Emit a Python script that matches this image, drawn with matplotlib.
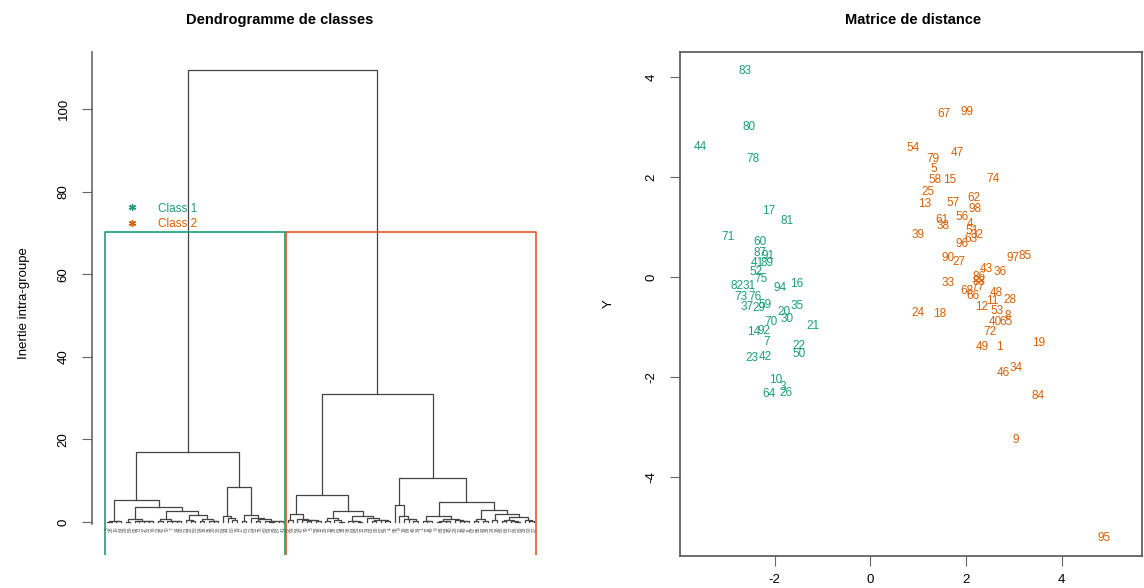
import numpy as np
import matplotlib.pyplot as plt
from matplotlib.lines import Line2D

plt.rcParams['font.family'] = ['Liberation Sans', 'DejaVu Sans']
plt.rcParams['axes.unicode_minus'] = False

# class 1 points (label, X, Y)
class1_labels = [83, 80, 44, 78, 17, 81, 71, 60, 87, 91, 41, 89, 52, 75, 82, 31, 94, 16, 73, 76,
                 37, 29, 59, 35, 20, 30, 70, 21, 14, 92, 7, 22, 50, 23, 42, 10, 3, 64, 26]
class1_x = [-2.63, -2.53, -3.56, -2.45, -2.13, -1.74, -2.97, -2.30, -2.30, -2.13, -2.37, -2.16, -2.39,
            -2.28, -2.78, -2.53, -1.88, -1.53, -2.70, -2.41, -2.57, -2.32, -2.20, -1.53, -1.80, -1.74,
            -2.07, -1.19, -2.43, -2.22, -2.16, -1.49, -1.49, -2.47, -2.20, -1.98, -1.84, -2.11, -1.76]
class1_y = [4.12, 3.00, 2.60, 2.36, 1.32, 1.12, 0.80, 0.70, 0.48, 0.42, 0.28, 0.28, 0.10, -0.04,
            -0.18, -0.18, -0.22, -0.14, -0.40, -0.40, -0.60, -0.62, -0.56, -0.58, -0.70, -0.84,
            -0.90, -0.98, -1.10, -1.08, -1.30, -1.38, -1.54, -1.62, -1.60, -2.06, -2.20, -2.34, -2.32]

# class 2 points
class2_labels = [67, 99, 54, 79, 47, 5, 58, 15, 74, 25, 13, 57, 62, 98, 56, 61, 38, 4, 51, 39,
                 32, 63, 96, 90, 27, 97, 85, 43, 36, 86, 88, 33, 77, 68, 66, 48, 11, 28, 24, 18,
                 12, 53, 8, 40, 65, 72, 49, 1, 19, 46, 34, 84, 9, 95]
class2_x = [1.54, 2.02, 0.90, 1.31, 1.83, 1.33, 1.35, 1.67, 2.56, 1.21, 1.13, 1.73, 2.17, 2.19,
            1.92, 1.50, 1.52, 2.08, 2.13, 1.00, 2.23, 2.10, 1.92, 1.63, 1.85, 2.98, 3.23, 2.42,
            2.71, 2.27, 2.27, 1.63, 2.25, 2.02, 2.15, 2.63, 2.56, 2.92, 1.00, 1.46, 2.33, 2.65,
            2.88, 2.61, 2.83, 2.50, 2.35, 2.71, 3.52, 2.79, 3.06, 3.50, 3.04, 4.90]
class2_y = [3.26, 3.30, 2.58, 2.36, 2.48, 2.16, 1.94, 1.94, 1.96, 1.70, 1.46, 1.48, 1.58, 1.36,
            1.20, 1.14, 1.02, 1.06, 0.92, 0.84, 0.84, 0.76, 0.66, 0.38, 0.30, 0.38, 0.42, 0.16,
            0.10, 0.00, -0.10, -0.12, -0.20, -0.28, -0.38, -0.32, -0.48, -0.46, -0.72, -0.74,
            -0.60, -0.68, -0.78, -0.90, -0.90, -1.10, -1.40, -1.40, -1.32, -1.92, -1.82, -2.38,
            -3.26, -5.22]

# height of the last merge
top_height = 109.6

green = '#1B9E77'
orange = '#D95F02'

labels = class1_labels + class2_labels
pts = np.column_stack([class1_x + class2_x, class1_y + class2_y])
n = len(pts)

# hierarchical clustering, ward.D on euclidean distances (like R hclust)
d = np.sqrt(((pts[:, None] - pts[None]) ** 2).sum(-1))
big = np.full((2 * n - 1, 2 * n - 1), np.inf)
big[:n, :n] = d
np.fill_diagonal(big, np.inf)
size = np.zeros(2 * n - 1)
size[:n] = 1
alive = list(range(n))
merges = []
for k in range(n - 1):
    sub = big[np.ix_(alive, alive)]
    a, b = np.unravel_index(np.argmin(sub), sub.shape)
    i, j = alive[a], alive[b]
    h = big[i, j]
    new = n + k
    for m in alive:
        if m in (i, j):
            continue
        v = ((size[i] + size[m]) * big[m, i] + (size[j] + size[m]) * big[m, j] - size[m] * h) \
            / (size[i] + size[j] + size[m])
        big[m, new] = big[new, m] = v
    size[new] = size[i] + size[j]
    alive.remove(i)
    alive.remove(j)
    alive.append(new)
    merges.append([i, j, h])

# bring the tree to the height scale of the reference
scale = top_height / merges[-1][2]
for mg in merges:
    mg[2] *= scale


def leaves(node):
    if node < n:
        return [node]
    i, j, _ = merges[node - n]
    return leaves(i) + leaves(j)


root = 2 * n - 2
# put class 1 on the left
if 0 not in leaves(merges[-1][0]):
    merges[-1][0], merges[-1][1] = merges[-1][1], merges[-1][0]
order = leaves(root)
xpos = {leaf: k + 1 for k, leaf in enumerate(order)}

fig = plt.figure(figsize=(11.44, 5.88), dpi=100)
W, H = 1144, 588
ax1 = fig.add_axes([92 / W, 1 - 555 / H, (560 - 92) / W, (555 - 52) / H])
ax2 = fig.add_axes([680 / W, 1 - 556 / H, (1142 - 680) / W, (556 - 52) / H])


def draw(node):
    if node < n:
        return xpos[node], 0.0
    i, j, h = merges[node - n]
    xi, hi = draw(i)
    xj, hj = draw(j)
    ax1.plot([xi, xi, xj, xj], [hi, h, h, hj], color='#444444', lw=0.9)
    return (xi + xj) / 2, h


draw(root)
cut = (merges[-1][2] + merges[-2][2]) / 2
for leaf in order:
    ax1.text(xpos[leaf], -1.2, str(labels[leaf]), rotation=90, ha='center', va='top',
             fontsize=3.5, color='#555555')

ymin, ymax = -8, 113.9
left_group = leaves(merges[-1][0])
x0 = 1 - 0.34
x1 = len(left_group) + 0.33
x2 = len(left_group) + 0.66
x3 = n + 0.33
ax1.plot([x0, x0, x1, x1], [ymin, cut, cut, ymin], color=green, lw=1.2)
ax1.plot([x2, x2, x3, x3], [ymin, cut, cut, ymin], color='#E8542A', lw=1.2)

ax1.set_xlim(1 - 15 / ((534 - 107) / (n - 1)), n + 26 / ((534 - 107) / (n - 1)))
ax1.set_ylim(ymin, ymax)
ax1.set_xticks([])
ax1.set_yticks([0, 20, 40, 60, 80, 100])
ax1.tick_params(axis='y', labelrotation=90, labelsize=9.5, length=7, color='#666666', pad=9)
for lbl in ax1.get_yticklabels():
    lbl.set_va('center')
for s in ['top', 'right', 'bottom']:
    ax1.spines[s].set_visible(False)
ax1.spines['left'].set_color('#666666')
ax1.spines['left'].set_linewidth(1.2)
ax1.spines['left'].set_bounds(-0.5, ymax)
ax1.set_ylabel('Inertie intra-groupe', fontsize=9.5, labelpad=20)

handles = [Line2D([], [], ls='none', marker=(6, 2, 0), color=c, markersize=5) for c in (green, orange)]
fig.legend(handles, ['Class 1', 'Class 2'], loc='upper left', bbox_to_anchor=(110 / W, 1 - 192 / H),
           frameon=False, fontsize=8.5, labelcolor=[green, orange], handletextpad=1.2,
           labelspacing=0.3)

fig.text(280 / W, 1 - 20 / H, 'Dendrogramme de classes', ha='center', va='center',
         fontsize=10.5, fontweight='bold')
fig.text(913 / W, 1 - 20 / H, 'Matrice de distance', ha='center', va='center',
         fontsize=10.5, fontweight='bold')

# scatter of labels
for lab, x, y in zip(class1_labels, class1_x, class1_y):
    ax2.text(x, y, str(lab), ha='center', va='center', fontsize=8.5, color=green)
for lab, x, y in zip(class2_labels, class2_x, class2_y):
    ax2.text(x, y, str(lab), ha='center', va='center', fontsize=8.5, color=orange)
ax2.set_xlim((680 - 870.3) / 47.8, (1142 - 870.3) / 47.8)
ax2.set_ylim((277 - 556) / 50, (277 - 52) / 50)
ax2.set_xticks([-2, 0, 2, 4])
ax2.set_yticks([-4, -2, 0, 2, 4])
ax2.tick_params(labelsize=9.5, length=7, color='#666666', pad=6)
ax2.tick_params(axis='y', labelrotation=90, pad=9)
for lbl in ax2.get_yticklabels():
    lbl.set_va('center')
for s in ax2.spines.values():
    s.set_color('#555555')
    s.set_linewidth(1.2)
ax2.set_ylabel('Y', fontsize=9.5, labelpad=22)

fig.savefig('out.png', dpi=100)
